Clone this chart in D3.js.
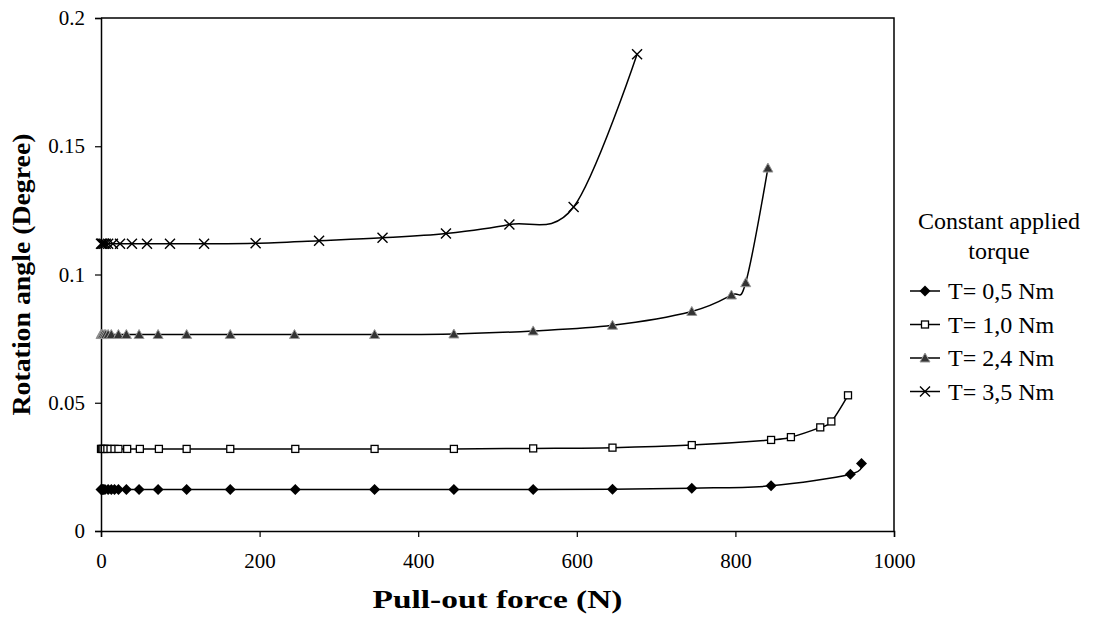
<!DOCTYPE html>
<html>
<head>
<meta charset="utf-8">
<script src="https://cdn.jsdelivr.net/npm/d3@7"></script>
<style>
  body { margin: 0; background: #fff; }
  text { font-family: "Liberation Serif", "Times New Roman", serif; fill: #000; }
</style>
</head>
<body>
<div id="chart"></div>
<script>
var width = 1100,
    height = 624;

// pull-out force (N) and rotation angle (degree) per torque
var forceT05 = [0, 1, 2, 3, 5, 9, 13, 17, 22, 32, 48, 72, 108, 163, 245, 345, 445, 545, 645, 745, 845, 945, 959];
var angleT05 = [0.0162, 0.0162, 0.0162, 0.0162, 0.0162, 0.0162, 0.0162, 0.0162, 0.0162, 0.0162, 0.0162, 0.0162,
                0.0162, 0.0162, 0.0162, 0.0162, 0.0162, 0.0162, 0.0163, 0.0167, 0.0176, 0.0221, 0.0263];

var forceT10 = [0, 1, 3, 5, 8, 12, 17, 22, 33, 49, 73, 108, 163, 245, 345, 445, 545, 645, 745, 845, 870, 907, 921, 942];
var angleT10 = [0.032, 0.032, 0.032, 0.032, 0.032, 0.032, 0.032, 0.032, 0.032, 0.032, 0.032, 0.032,
                0.032, 0.032, 0.032, 0.032, 0.0322, 0.0325, 0.0335, 0.0355, 0.0366, 0.0404, 0.0427, 0.0529];

var forceT24 = [0, 1, 2, 4, 6, 9, 13, 22, 32, 48, 72, 108, 163, 244, 345, 445, 545, 645, 745, 795, 813, 841];
var angleT24 = [0.0766, 0.0766, 0.0766, 0.0766, 0.0766, 0.0766, 0.0766, 0.0766, 0.0766, 0.0766, 0.0766,
                0.0766, 0.0766, 0.0766, 0.0766, 0.0768, 0.078, 0.0802, 0.0856, 0.092, 0.0968, 0.1415];

var forceT35 = [0, 1, 2, 4, 6, 9, 15, 24, 39, 58, 87, 130, 195, 275, 355, 435, 515, 596, 676];
var angleT35 = [0.112, 0.112, 0.112, 0.112, 0.112, 0.112, 0.112, 0.112, 0.112, 0.112, 0.112, 0.112,
                0.1122, 0.1132, 0.1143, 0.116, 0.1195, 0.1263, 0.1859];

var seriesNames = ["T= 0,5 Nm", "T= 1,0 Nm", "T= 2,4 Nm", "T= 3,5 Nm"];
var seriesMarkers = ["diamond", "square", "triangle", "cross"];
var xTicks = [0, 200, 400, 600, 800, 1000];
var yTicks = [0, 0.05, 0.1, 0.15, 0.2];

var series = [
  { name: seriesNames[0], marker: seriesMarkers[0], x: forceT05, y: angleT05 },
  { name: seriesNames[1], marker: seriesMarkers[1], x: forceT10, y: angleT10 },
  { name: seriesNames[2], marker: seriesMarkers[2], x: forceT24, y: angleT24 },
  { name: seriesNames[3], marker: seriesMarkers[3], x: forceT35, y: angleT35 }
];

var plotLeft = 101, plotRight = 894, plotTop = 18, plotBottom = 531;

var svg = d3.select("#chart").append("svg")
    .attr("width", width)
    .attr("height", height);

var x = d3.scaleLinear().domain([0, 1000]).range([plotLeft, plotRight]);
var y = d3.scaleLinear().domain([0, 0.2]).range([plotBottom, plotTop]);

// plot frame (top and right)
svg.append("path")
    .attr("d", "M" + plotLeft + "," + plotTop + "H" + plotRight + "V" + plotBottom)
    .attr("fill", "none")
    .attr("stroke", "#000")
    .attr("stroke-width", 1.5);

var xAxis = svg.append("g")
    .attr("transform", "translate(0," + plotBottom + ")")
    .call(d3.axisBottom(x).tickValues(xTicks).tickSize(6).tickPadding(16).tickFormat(d3.format("d")));

var yAxis = svg.append("g")
    .attr("transform", "translate(" + plotLeft + ",0)")
    .call(d3.axisLeft(y).tickValues(yTicks).tickSize(6).tickPadding(10).tickFormat(function(d) { return d === 0 ? "0" : String(d); }));

[xAxis, yAxis].forEach(function(a) {
  a.attr("font-size", null).attr("font-family", null);
  a.select(".domain").attr("stroke", "#000").attr("stroke-width", 1.5);
  a.selectAll(".tick line").attr("stroke", "#000").attr("stroke-width", 1.2);
  a.selectAll("text")
      .style("font-family", "'Liberation Serif', serif")
      .style("font-size", "21px")
      .attr("fill", "#000");
});

var line = d3.line()
    .x(function(d) { return x(d[0]); })
    .y(function(d) { return y(d[1]); })
    .curve(d3.curveCardinal.tension(0));

function drawMarker(g, type, cx, cy) {
  if (type === "diamond") {
    g.append("path")
        .attr("d", "M" + cx + "," + (cy - 5.5) + "L" + (cx + 5.5) + "," + cy + "L" + cx + "," + (cy + 5.5) + "L" + (cx - 5.5) + "," + cy + "Z")
        .attr("fill", "#000");
  } else if (type === "square") {
    g.append("rect")
        .attr("x", cx - 3.5).attr("y", cy - 3.5)
        .attr("width", 7).attr("height", 7)
        .attr("fill", "#fff")
        .attr("stroke", "#000")
        .attr("stroke-width", 1.3);
  } else if (type === "triangle") {
    g.append("path")
        .attr("d", "M" + cx + "," + (cy - 5) + "L" + (cx + 5) + "," + (cy + 4) + "L" + (cx - 5) + "," + (cy + 4) + "Z")
        .attr("fill", "#333")
        .attr("stroke", "#999")
        .attr("stroke-width", 1);
  } else {
    g.append("path")
        .attr("d", "M" + (cx - 5) + "," + (cy - 5) + "L" + (cx + 5) + "," + (cy + 5) + "M" + (cx + 5) + "," + (cy - 5) + "L" + (cx - 5) + "," + (cy + 5))
        .attr("stroke", "#000")
        .attr("stroke-width", 1.4);
  }
}

series.forEach(function(s) {
  var pts = s.x.map(function(v, i) { return [v, s.y[i]]; });
  svg.append("path")
      .datum(pts)
      .attr("d", line)
      .attr("fill", "none")
      .attr("stroke", "#000")
      .attr("stroke-width", 1.5);
  var g = svg.append("g");
  pts.forEach(function(p) { drawMarker(g, s.marker, x(p[0]), y(p[1])); });
});

// axis titles
svg.append("text")
    .attr("x", (plotLeft + plotRight) / 2)
    .attr("y", 608)
    .attr("text-anchor", "middle")
    .style("font-weight", "bold")
    .style("font-size", "25px")
    .attr("textLength", 250)
    .attr("lengthAdjust", "spacingAndGlyphs")
    .text("Pull-out force (N)");

svg.append("text")
    .attr("transform", "translate(30," + (plotTop + plotBottom) / 2 + ") rotate(-90)")
    .attr("text-anchor", "middle")
    .style("font-weight", "bold")
    .style("font-size", "25px")
    .attr("textLength", 282)
    .attr("lengthAdjust", "spacingAndGlyphs")
    .text("Rotation angle (Degree)");

// legend
var legend = svg.append("g");
legend.append("text").attr("x", 999).attr("y", 229).attr("text-anchor", "middle")
    .style("font-size", "24px").text("Constant applied");
legend.append("text").attr("x", 999).attr("y", 259).attr("text-anchor", "middle")
    .style("font-size", "24px").text("torque");

series.forEach(function(s, i) {
  var ly = 291 + i * 33.5;
  var g = legend.append("g");
  g.append("line").attr("x1", 910).attr("x2", 940).attr("y1", ly).attr("y2", ly)
      .attr("stroke", "#000").attr("stroke-width", 1.5);
  drawMarker(g, s.marker, 925, ly);
  g.append("text").attr("x", 948).attr("y", ly + 8)
      .style("font-size", "24px").text(s.name);
});
</script>
</body>
</html>
